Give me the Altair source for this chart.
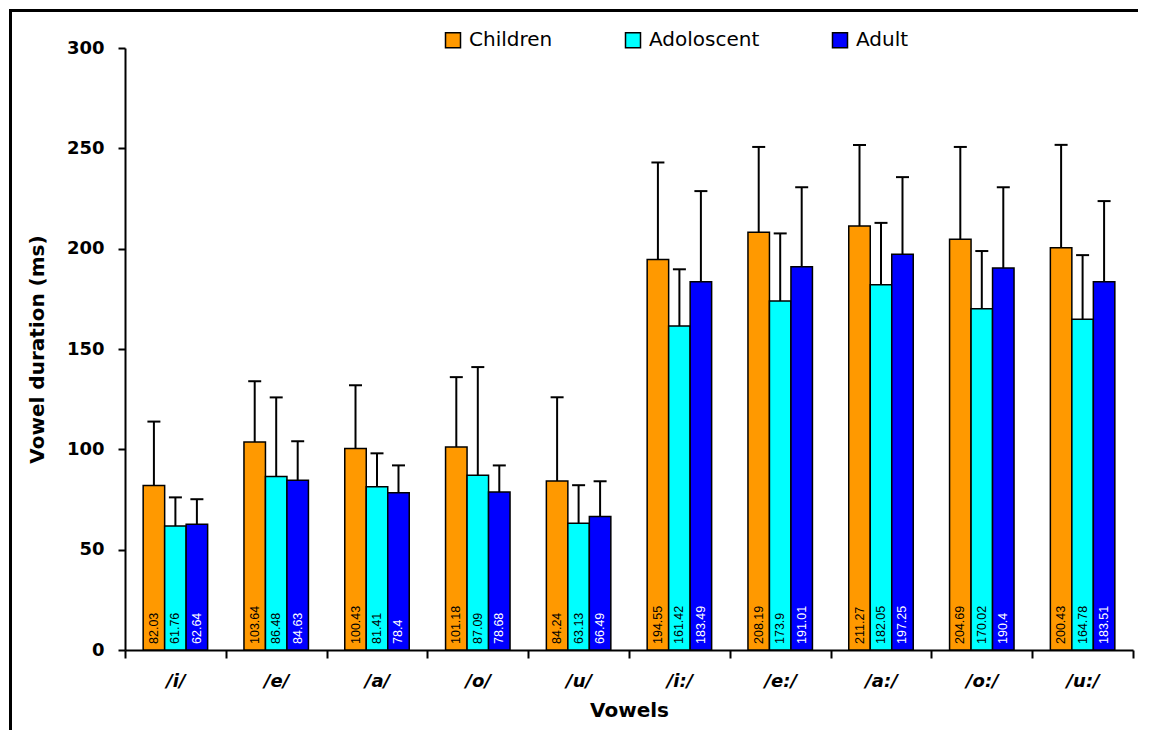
import altair as alt
import pandas as pd

# ---- data ----
vowels = ["/i/", "/e/", "/a/", "/o/", "/u/", "/i:/", "/e:/", "/a:/", "/o:/", "/u:/"]
groups = ["Children", "Adoloscent", "Adult"]

children = [82.03, 103.64, 100.43, 101.18, 84.24, 194.55, 208.19, 211.27, 204.69, 200.43]
adolescent = [61.76, 86.48, 81.41, 87.09, 63.13, 161.42, 173.9, 182.05, 170.02, 164.78]
adult = [62.64, 84.63, 78.4, 78.68, 66.49, 183.49, 191.01, 197.25, 190.4, 183.51]

children_sd = [31.8, 30.3, 31.5, 34.8, 41.7, 48.4, 42.5, 40.4, 46.0, 51.3]
adolescent_sd = [14.3, 39.4, 16.6, 53.9, 19.0, 28.3, 33.7, 30.8, 28.8, 32.0]
adult_sd = [12.5, 19.4, 13.6, 13.3, 17.6, 45.2, 39.6, 38.4, 40.2, 40.2]

y_ticks = [0, 50, 100, 150, 200, 250, 300]

bar_colors = ["#FF9900", "#00FFFF", "#0000FF"]
label_colors = ["black", "black", "white"]

rows = []
for g, means, sds in zip(groups, [children, adolescent, adult],
                         [children_sd, adolescent_sd, adult_sd]):
    for v, m, s in zip(vowels, means, sds):
        rows.append({"vowel": v, "group": g, "mean": m,
                     "top": round(m + s, 2), "label": f"{m:g}"})
df = pd.DataFrame(rows)

W, H = 1008, 602
PAD = {"left": 117, "top": 40, "right": 12, "bottom": 90}
YTITLE = "Vowel duration (ms)"
FONT = "DejaVu Sans"

x_enc = alt.X(
    "vowel:N", sort=vowels,
    scale=alt.Scale(paddingInner=0, paddingOuter=0),
    axis=alt.Axis(title="Vowels", labelAngle=0, tickBand="extent",
                  tickSize=8, labelPadding=14,
                  labelFont=FONT, labelFontSize=18, labelFontWeight="bold",
                  labelFontStyle="italic",
                  titleFont=FONT, titleFontSize=20, titleFontWeight="bold",
                  titlePadding=10),
)
xo_enc = alt.XOffset(
    "group:N", sort=groups,
    scale=alt.Scale(domain=groups, paddingInner=0, paddingOuter=0.845),
)
y_scale = alt.Scale(domain=[0, 300], nice=False)
y_axis = alt.Axis(values=y_ticks, tickSize=7, labelPadding=14,
                  labelFont=FONT, labelFontSize=18, labelFontWeight="bold",
                  titleFont=FONT, titleFontSize=20, titleFontWeight="bold",
                  titlePadding=19)

base = alt.Chart(df).encode(x=x_enc, xOffset=xo_enc)

bars = base.mark_bar(stroke="black", strokeWidth=1.5).encode(
    y=alt.Y("mean:Q", scale=y_scale, axis=y_axis, title=YTITLE),
    color=alt.Color(
        "group:N",
        scale=alt.Scale(domain=groups, range=bar_colors),
        legend=alt.Legend(
            title=None, orient="none", legendX=318, legendY=-18,
            direction="horizontal", symbolType="square", symbolSize=225,
            symbolStrokeColor="black", symbolStrokeWidth=1.5,
            symbolOpacity=1, labelFont=FONT, labelFontSize=20,
            labelColor="black", labelOffset=6, columnPadding=69, padding=0,
        ),
    ),
)

err = base.mark_rule(color="black", strokeWidth=2).encode(
    y=alt.Y("mean:Q", scale=y_scale, title=YTITLE), y2="top:Q"
)

caps = base.mark_tick(orient="horizontal", color="black", size=13,
                      thickness=2, opacity=1).encode(
    y=alt.Y("top:Q", scale=y_scale, title=YTITLE)
)

labels = base.mark_text(angle=270, align="left", baseline="middle", dx=6,
                        fontSize=12.5, font="Liberation Sans").encode(
    y=alt.datum(0, scale=y_scale, title=YTITLE),
    text="label:N",
    color=alt.Color("group:N",
                    scale=alt.Scale(domain=groups, range=label_colors),
                    legend=None),
)

# outer frame: only top and left edges are visible in the (cropped) reference
frame_data = pd.DataFrame({"k": [0]})
L, T = -PAD["left"], -PAD["top"]
frame_left = alt.Chart(frame_data).mark_rect(color="black", strokeWidth=0).encode(
    x=alt.value(L + 1), x2=alt.value(L + 4),
    y=alt.value(T + 1), y2=alt.value(H + 80),
)
frame_top = alt.Chart(frame_data).mark_rect(color="black", strokeWidth=0).encode(
    x=alt.value(L + 1), x2=alt.value(W + 5),
    y=alt.value(T + 1), y2=alt.value(T + 4),
)

chart = (
    alt.layer(bars, err, caps, labels, frame_left, frame_top)
    .resolve_scale(color="independent")
    .properties(
        width=W, height=H,
        autosize=alt.AutoSizeParams(type="none"),
        padding=PAD,
    )
    .configure_view(strokeWidth=0)
    .configure_axis(domainColor="black", domainWidth=2, tickColor="black",
                    tickWidth=2, labelColor="black", titleColor="black",
                    grid=False)
)

chart.save("out.html", embed_options={"renderer": "svg", "actions": False})
